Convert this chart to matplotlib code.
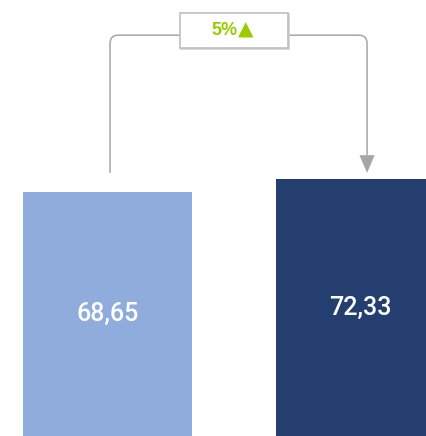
import matplotlib.pyplot as plt
from matplotlib.path import Path
from matplotlib.patches import PathPatch, Polygon, Rectangle

# Values shown on the two bars and the change badge
categories = ["Previous", "Current"]
values = [68.65, 72.33]
value_labels = ["68,65", "72,33"]
change_pct = "5%"
change_sign = "\u25B2"

bar_colors = ["#8FACDC", "#243E70"]
line_color = "#A6A6A6"
badge_color = "#99CC00"

fig = plt.figure(figsize=(4.26, 4.36), dpi=100)
ax = fig.add_axes([0, 0, 1, 1])

x_pos = list(range(len(categories)))
ax.bar(x_pos, values, width=0.668, color=bar_colors, linewidth=0)

# value labels in the middle of each bar
for x, v, lab in zip(x_pos, values, value_labels):
    ax.text(x, v / 2, lab, ha="center", va="center", color="white",
            fontsize=18, fontfamily="Roboto", fontweight="medium")

ax.set_xlim(-0.425, 1.259)
ax.set_ylim(0, 122.7)
ax.axis("off")

# --- connector bracket from the first bar to the second ---
x0, x1 = x_pos[0] + 0.01, x_pos[1] + 0.026
y_start = max(values) + 1.7
y_top = 112.8
rx, ry = 0.032, 2.3
arrow_base = y_start + 5.0
verts = [
    (x0, y_start), (x0, y_top - ry),
    (x0, y_top), (x0 + rx, y_top),
    (x1 - rx, y_top),
    (x1, y_top), (x1, y_top - ry),
    (x1, arrow_base),
]
codes = [Path.MOVETO, Path.LINETO, Path.CURVE3, Path.CURVE3,
         Path.LINETO, Path.CURVE3, Path.CURVE3, Path.LINETO]
ax.add_patch(PathPatch(Path(verts, codes), fill=False, edgecolor=line_color,
                       linewidth=1.1, capstyle="butt"))

# arrow head pointing down at the second bar
hw = 0.03
ax.add_patch(Polygon([(x1 - hw, arrow_base), (x1 + hw, arrow_base),
                      (x1, y_start)], closed=True, facecolor=line_color,
                     edgecolor="none"))

# change badge sitting on the bracket
bx0, bx1 = 0.2866, 0.7134
by0, by1 = 109.2, 119.0
ax.add_patch(Rectangle((bx0 + 0.004, by0 - 0.35), bx1 - bx0, by1 - by0,
                       facecolor="#D9D9D9", edgecolor="#D0D0D0", linewidth=1.2))
ax.add_patch(Rectangle((bx0, by0), bx1 - bx0, by1 - by0,
                       facecolor="white", edgecolor="#BFBFBF", linewidth=1.2))
split_x = 0.5158
text_y = (by0 + by1) / 2
ax.text(split_x, text_y, change_pct, ha="right", va="center",
        color=badge_color, fontsize=13, fontweight="bold",
        family=["Liberation Sans", "DejaVu Sans"])
ax.text(split_x - 0.002, text_y + 0.15, change_sign, ha="left", va="center",
        color=badge_color, fontsize=14.5, family="DejaVu Sans")

fig.savefig("out.png", dpi=100)
